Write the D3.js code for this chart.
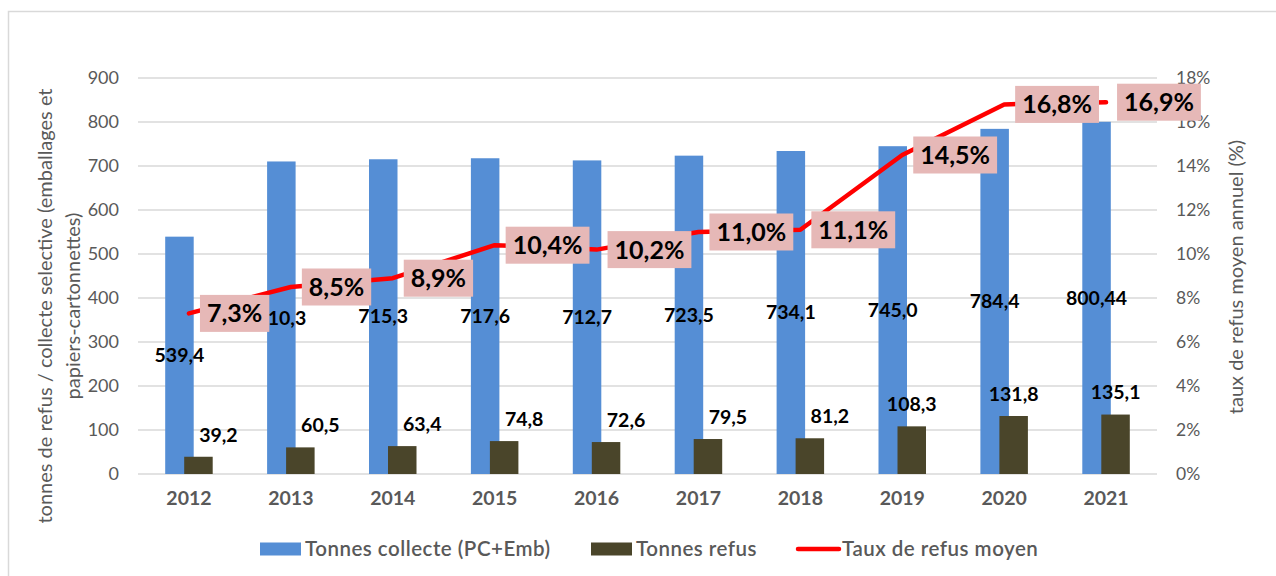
<!DOCTYPE html>
<html>
<head>
<meta charset="utf-8">
<script src="https://cdn.jsdelivr.net/npm/d3@7"></script>
<style>
  body { margin: 0; background: #fff; }
  svg { display: block; font-family: Lato, "Open Sans", sans-serif; }
</style>
</head>
<body>
<svg id="chart" width="1276" height="576"></svg>
<script>
// data
var years = ["2012", "2013", "2014", "2015", "2016", "2017", "2018", "2019", "2020", "2021"];
var collecte = [539.4, 710.3, 715.3, 717.6, 712.7, 723.5, 734.1, 745.0, 784.4, 800.44];
var refus = [39.2, 60.5, 63.4, 74.8, 72.6, 79.5, 81.2, 108.3, 131.8, 135.1];
var taux = [7.3, 8.5, 8.9, 10.4, 10.2, 11.0, 11.1, 14.5, 16.8, 16.9];
var leftTicks = [0, 100, 200, 300, 400, 500, 600, 700, 800, 900];
var rightTicks = [0, 2, 4, 6, 8, 10, 12, 14, 16, 18];
var seriesNames = ["Tonnes collecte (PC+Emb)", "Tonnes refus", "Taux de refus moyen"];

var blue = "#558ed5", dark = "#4a452a", red = "#ff0000", boxFill = "#e6b8b7";
var grey = "#595959", gridCol = "#d9d9d9";

var svg = d3.select("#chart");

// chart border
svg.append("rect")
    .attr("x", 8.5).attr("y", 11.5)
    .attr("width", 1300).attr("height", 600)
    .attr("fill", "none").attr("stroke", gridCol).attr("stroke-width", 1.5);

var x = d3.scaleBand().domain(years).range([138, 1157]);
var yL = d3.scaleLinear().domain([0, 900]).range([474, 78]);
var yR = d3.scaleLinear().domain([0, 18]).range([474, 78]);

var barW = 28.5, off = 9.5;
function cx(d) { return x(d) + x.bandwidth() / 2; }

function fmt(v) {
    var s = (Math.round(v * 10) === v * 10) ? v.toFixed(1) : v.toFixed(2);
    return s.replace(".", ",");
}

// gridlines
svg.append("g").selectAll("line")
    .data(leftTicks)
    .enter().append("line")
    .attr("x1", 138).attr("x2", 1157)
    .attr("y1", function(d) { return yL(d); })
    .attr("y2", function(d) { return yL(d); })
    .attr("stroke", gridCol).attr("stroke-width", 1.5);

// left axis labels
var leftAxis = d3.axisLeft(yL).tickValues(leftTicks).tickSize(0).tickPadding(0);
svg.append("g").attr("transform", "translate(119,0)").call(leftAxis)
    .call(function(g) { g.select(".domain").remove(); })
    .selectAll("text").attr("fill", grey).style("font-size", "18px").style("font-family", "Lato");

// right axis labels
var rightAxis = d3.axisRight(yR).tickValues(rightTicks).tickSize(0).tickPadding(0)
    .tickFormat(function(d) { return d + "%"; });
svg.append("g").attr("transform", "translate(1176,0)").call(rightAxis)
    .call(function(g) { g.select(".domain").remove(); })
    .selectAll("text").attr("fill", grey).style("font-size", "17.5px").style("font-family", "Lato");

// year labels
var xAxis = d3.axisBottom(x).tickSize(0).tickPadding(0);
svg.append("g").attr("transform", "translate(0,491)").call(xAxis)
    .call(function(g) { g.select(".domain").remove(); })
    .selectAll("text").attr("fill", grey).style("font-size", "19.5px")
    .style("font-weight", "bold").style("font-family", "Lato");

// axis titles
svg.append("text")
    .attr("transform", "translate(52,306) rotate(-90)")
    .attr("text-anchor", "middle").attr("fill", grey).style("font-size", "20px")
    .text("tonnes de refus / collecte selective (emballages et");
svg.append("text")
    .attr("transform", "translate(80,306) rotate(-90)")
    .attr("text-anchor", "middle").attr("fill", grey).style("font-size", "20px")
    .text("papiers-cartonnettes)");
svg.append("text")
    .attr("transform", "translate(1243,277) rotate(-90)")
    .attr("text-anchor", "middle").attr("fill", grey).style("font-size", "20px")
    .text("taux de refus moyen annuel (%)");

// bars
svg.append("g").selectAll("rect")
    .data(collecte)
    .enter().append("rect")
    .attr("x", function(d, i) { return cx(years[i]) - off - barW / 2; })
    .attr("y", function(d) { return yL(d); })
    .attr("width", barW)
    .attr("height", function(d) { return yL(0) - yL(d); })
    .attr("fill", blue);

svg.append("g").selectAll("rect")
    .data(refus)
    .enter().append("rect")
    .attr("x", function(d, i) { return cx(years[i]) + off - barW / 2; })
    .attr("y", function(d) { return yL(d); })
    .attr("width", barW)
    .attr("height", function(d) { return yL(0) - yL(d); })
    .attr("fill", dark);

// line
var line = d3.line()
    .x(function(d, i) { return cx(years[i]); })
    .y(function(d) { return yR(d); });
svg.append("path")
    .datum(taux)
    .attr("d", line)
    .attr("fill", "none").attr("stroke", red).attr("stroke-width", 4.5)
    .attr("stroke-linejoin", "round").attr("stroke-linecap", "round");

// bar labels
svg.append("g").selectAll("text")
    .data(collecte)
    .enter().append("text")
    .attr("x", function(d, i) { return cx(years[i]) - off; })
    .attr("y", function(d) { return yL(d / 2); })
    .attr("dy", "0.35em")
    .attr("text-anchor", "middle")
    .style("font-size", "19.5px").style("font-weight", "bold")
    .text(fmt);

svg.append("g").selectAll("text")
    .data(refus)
    .enter().append("text")
    .attr("x", function(d, i) { return cx(years[i]) + off + (d < 100 ? 20 : 0); })
    .attr("y", function(d) { return yL(d) - 22; })
    .attr("dy", "0.35em")
    .attr("text-anchor", "middle")
    .style("font-size", "19.5px").style("font-weight", "bold")
    .text(fmt);

// percent labels with boxes
var pl = svg.append("g").selectAll("g")
    .data(taux)
    .enter().append("g")
    .attr("transform", function(d, i) { return "translate(" + (cx(years[i]) + 11) + "," + yR(d) + ")"; });

pl.append("text")
    .attr("x", 7).attr("dy", "0.36em")
    .style("font-size", "25px").style("font-weight", "bold")
    .text(function(d) { return d.toFixed(1).replace(".", ",") + "%"; })
    .each(function() {
        var w = this.getComputedTextLength();
        d3.select(this.parentNode).insert("rect", "text")
            .attr("x", 0).attr("y", -18.5)
            .attr("width", w + 14).attr("height", 37)
            .attr("fill", boxFill);
    });

// legend
var legend = svg.append("g").attr("transform", "translate(0,549)");
var legX = [260, 591, 797];
seriesNames.forEach(function(name, i) {
    var g = legend.append("g").attr("transform", "translate(" + legX[i] + ",0)");
    if (i < 2) {
        g.append("rect").attr("x", 0).attr("y", -6.5).attr("width", 41).attr("height", 13)
            .attr("fill", i === 0 ? blue : dark);
    } else {
        g.append("line").attr("x1", 1).attr("x2", 42).attr("y1", 0).attr("y2", 0)
            .attr("stroke", red).attr("stroke-width", 4.5).attr("stroke-linecap", "round");
    }
    g.append("text").attr("x", 45).attr("dy", "0.35em")
        .attr("fill", grey).style("font-size", "20.5px")
        .style("letter-spacing", "0.5px").style("font-weight", 600)
        .text(name);
});
</script>
</body>
</html>
